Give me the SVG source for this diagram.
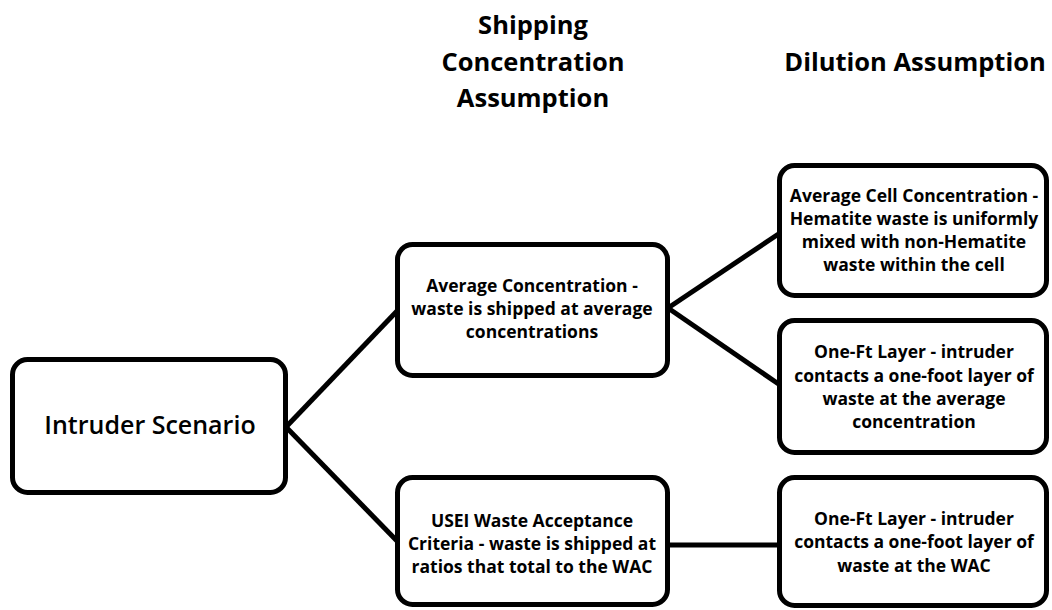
<svg xmlns="http://www.w3.org/2000/svg" width="1052" height="610" viewBox="0 0 1052 610">
<style>
.box{fill:#fff;stroke:#000;stroke-width:5}
.con{stroke:#000;stroke-width:5;fill:none}
.hd{font-family:"Open Sans","Liberation Sans",sans-serif;font-weight:bold;font-size:25.5px;text-anchor:middle;fill:#000}
.t{font-family:"Open Sans","Liberation Sans",sans-serif;font-weight:bold;font-size:17.5px;text-anchor:middle;fill:#000}
.big{font-family:"Open Sans","Liberation Sans",sans-serif;font-weight:600;font-size:25px;text-anchor:middle;fill:#000}
</style>
<rect width="1052" height="610" fill="#fff"/>
<g id="headers">
<text class="hd" x="533" y="34">Shipping</text>
<text class="hd" x="533" y="71">Concentration</text>
<text class="hd" x="533" y="107">Assumption</text>
<text class="hd" x="915" y="71">Dilution Assumption</text>
</g>
<g id="connectors">
<line class="con" x1="286" y1="427" x2="398" y2="310"/>
<line class="con" x1="286" y1="427" x2="398" y2="542"/>
<line class="con" x1="668" y1="308" x2="780" y2="233"/>
<line class="con" x1="668" y1="308" x2="780" y2="385"/>
<line class="con" x1="668" y1="545" x2="780" y2="545"/>
</g>
<g id="intruder">
<rect class="box" x="12.5" y="359.5" width="273" height="133" rx="15"/>
<text class="big" x="150" y="434">Intruder Scenario</text>
</g>
<g id="avg-conc">
<rect class="box" x="397.5" y="244.5" width="270" height="131" rx="15"/>
<text class="t" x="532" y="292">Average Concentration -</text>
<text class="t" x="532" y="315">waste is shipped at average</text>
<text class="t" x="532" y="338">concentrations</text>
</g>
<g id="usei-wac">
<rect class="box" x="397.5" y="477.5" width="270" height="127" rx="15"/>
<text class="t" x="532" y="527">USEI Waste Acceptance</text>
<text class="t" x="532" y="550">Criteria - waste is shipped at</text>
<text class="t" x="532" y="573">ratios that total to the WAC</text>
</g>
<g id="avg-cell">
<rect class="box" x="779.5" y="165.5" width="267" height="130" rx="15"/>
<text class="t" x="914" y="202">Average Cell Concentration -</text>
<text class="t" x="914" y="225">Hematite waste is uniformly</text>
<text class="t" x="914" y="248">mixed with non-Hematite</text>
<text class="t" x="914" y="271">waste within the cell</text>
</g>
<g id="oneft-avg">
<rect class="box" x="779.5" y="320.5" width="267" height="132" rx="15"/>
<text class="t" x="914" y="358">One-Ft Layer - intruder</text>
<text class="t" x="914" y="382">contacts a one-foot layer of</text>
<text class="t" x="914" y="405">waste at the average</text>
<text class="t" x="914" y="428">concentration</text>
</g>
<g id="oneft-wac">
<rect class="box" x="779.5" y="477.5" width="267" height="128" rx="15"/>
<text class="t" x="914" y="525">One-Ft Layer - intruder</text>
<text class="t" x="914" y="548">contacts a one-foot layer of</text>
<text class="t" x="914" y="572">waste at the WAC</text>
</g>
</svg>
